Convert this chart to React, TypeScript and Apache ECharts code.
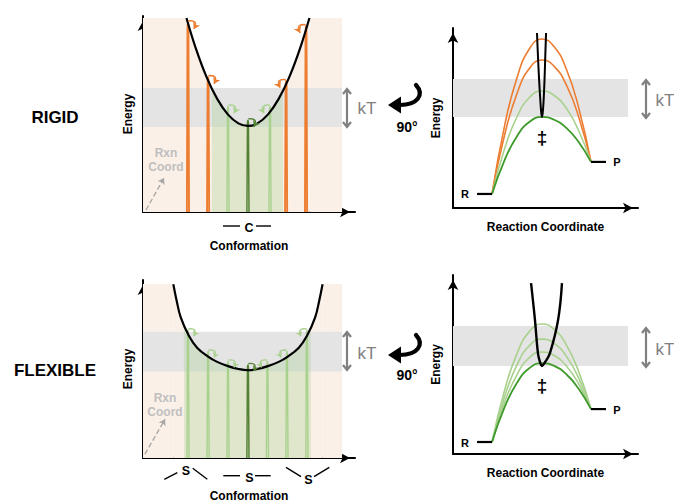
import React, { useEffect, useRef } from 'react';
import * as echarts from 'echarts';

// ---------- DATA (axis units 0..100 in every panel) ----------
// Rigid: conformational energy well
const rigidCurve = [[20.5, 99], [25, 83.2], [30, 68.8], [35, 57.7], [40, 49.8], [45, 45.2], [49.5, 43.9], [54, 45.2], [59, 49.8], [64, 57.7], [69, 68.8], [74, 83.2], [78.5, 99]];
const rigidGreenFill = [[32.5, 62.8], [35, 57.7], [40, 49.8], [45, 45.2], [49.5, 43.9], [54, 45.2], [59, 49.8], [64, 57.7], [66, 61.7]];
const rigidBand = [43.4, 63.3];
const rigidPeachTop = 99;
const rigidOrangeX = [21.2, 30.7, 67.5, 76.9];
const rigidOrangeTop = [97, 69, 67, 95];
const rigidLightX = [40.1, 59.9];
const rigidLightTop = [54, 54];
const rigidDarkX = [49.5];
const rigidDarkTop = [47];

// Flexible: conformational energy well
const flexCurve = [[14.3, 97.6], [15.8, 88.8], [17.8, 79], [21.7, 68.5], [25.5, 62], [30.7, 57], [35, 54], [40.1, 51.6], [45, 50], [49.5, 49.3], [54, 50], [58.9, 51.6], [64, 54], [68.3, 57], [73.5, 62], [77.3, 68.5], [81.2, 79], [83.2, 88.8], [84.7, 97.6]];
const flexGreenFill = [[19.3, 74.5], [21.7, 68.5], [25.5, 62], [30.7, 57], [35, 54], [40.1, 51.6], [45, 50], [49.5, 49.3], [54, 50], [58.9, 51.6], [64, 54], [68.3, 57], [73.5, 62], [77.3, 68.5], [79.2, 73.5]];
const flexBand = [48.6, 70.9];
const flexPeachTop = 97.8;
const flexLightX = [21.2, 30.7, 40.1, 58.7, 67.9, 77.3];
const flexLightTop = [72, 60, 54.5, 54.5, 60, 72];
const flexDarkX = [49.5];
const flexDarkTop = [52.5];

// Reaction coordinate profiles
const rcX = [21.1, 27.85, 34.6, 41.35, 48.1, 54.7, 61.4, 68.0, 74.6];
const rigidTSDark = [7.8, 26.5, 39.9, 47.9, 50.6, 49.0, 44.4, 36.5, 25.6];
const rigidTSLight = [7.8, 32.8, 50.7, 61.4, 65, 62.5, 55.2, 42.8, 25.6];
const rigidTSOrange1 = [7.8, 40.4, 63.6, 77.6, 82.2, 78.7, 68.1, 50.4, 25.6];
const rigidTSOrange2 = [7.8, 45.5, 72.4, 88.5, 93.9, 89.6, 76.8, 55.5, 25.6];
const rigidTSWell = [[45.4, 97.2], [45.9, 85], [46.5, 72], [47.2, 60], [47.7, 53], [48.1, 50.6], [48.5, 53], [49.0, 60], [49.5, 72], [49.9, 85], [50.3, 97.2]];
const rigidTSBand = [50.6, 71.7];
const rigidR = 7.8, rigidP = 25.6;

const flexTSDark = [6.7, 26.0, 39.8, 48.0, 50.8, 49.2, 44.4, 36.3, 25.1];
const flexTSLight1 = [6.7, 28.7, 44.4, 53.9, 57, 55.0, 49.0, 39.1, 25.1];
const flexTSLight2 = [6.7, 31.9, 49.8, 60.6, 64.2, 61.8, 54.4, 42.2, 25.1];
const flexTSLight3 = [6.7, 35.5, 56.1, 68.5, 72.6, 69.6, 60.7, 45.9, 25.1];
const flexTSWell = [[42.2, 95.5], [44.3, 74.9], [45.9, 56.4], [47, 51.5], [48.1, 49.2], [49.6, 51], [52.4, 56.4], [56.8, 74.9], [58.9, 95.5]];
const flexTSBand = [49.2, 71.5];
const flexR = 6.7, flexP = 25.1;

const RLevelX = [13, 21.1];
const PLevelX = [74.6, 82.7];

// ---------- STYLE ----------
const ORANGE = '#ED7D31';
const LIGHT = '#A9D18E';
const DARK = '#3F9A2C';
const DARK2 = '#548235';
const PEACH = '#FBF0E8';
const GRAY = '#E4E4E4';
const GREENFILL = 'rgba(169,209,142,0.32)';
const FONT = '"Liberation Sans", Arial, sans-serif';

const grids = [
  { left: 143, top: 16, width: 212, height: 196 },
  { left: 453, top: 28, width: 185, height: 180 },
  { left: 143, top: 280, width: 212, height: 179 },
  { left: 453, top: 275, width: 185, height: 179 },
];
const xNames = ['Conformation', 'Reaction Coordinate', 'Conformation', 'Reaction Coordinate'];
const xGaps = [28, 13, 32, 13];
const yGaps = [9, 11, 9, 11];

const axisLine = {
  show: true, onZero: false, symbol: ['none', 'arrow'], symbolSize: [8, 10], symbolOffset: [0, -5],
  lineStyle: { color: '#000', width: 2 },
};
const nameStyle = { fontFamily: FONT, fontWeight: 'bold', fontSize: 12, color: '#000' };

function line(gi: number, data: number[][], color: string, width: number, smooth: any = false, extra: any = {}) {
  return { type: 'line', xAxisIndex: gi, yAxisIndex: gi, data, symbol: 'none', silent: true, smooth, lineStyle: { color, width }, ...extra };
}
function area(gi: number, data: number[][], color: string, origin: any = 'start', smooth: any = false) {
  return {
    type: 'line', xAxisIndex: gi, yAxisIndex: gi, data, symbol: 'none', silent: true, smooth,
    lineStyle: { width: 0, opacity: 0 }, areaStyle: { color, opacity: 1, origin },
  };
}
function peak(x: number, h: number) {
  return [[x - 0.5, 0], [x - 0.22, h * 0.97], [x, h], [x + 0.22, h * 0.97], [x + 0.5, 0]];
}
function zip(xs: number[], ys: number[]) { return xs.map((x, i) => [x, ys[i]]); }

function peakArrows(xs: number[], tops: number[], color: string, center: number, w = 1.4) {
  return xs.map((x, i) => {
    const dir = x <= center + 0.01 ? 1 : -1;
    return {
      coords: [[x + 0.15 * dir, tops[i] + 0.5], [x + 2.8 * dir, tops[i] - 3.6]],
      lineStyle: { color, width: w, opacity: 1, curveness: 0.95 * dir },
    };
  });
}
function arrowsSeries(gi: number, data: any[], size: number, extraStyle: any = {}) {
  return {
    type: 'lines', coordinateSystem: 'cartesian2d', xAxisIndex: gi, yAxisIndex: gi, silent: true, z: 6,
    symbol: ['none', 'arrow'], symbolSize: size,
    lineStyle: { opacity: 1, width: 1.3, ...extraStyle },
    data,
  };
}

function buildOption() {
  const series: any[] = [];
  // ---- panel 0: rigid conformations
  series.push(area(0, [[0, rigidPeachTop], [rigidCurve[0][0], rigidPeachTop]], PEACH));
  series.push(area(0, [[rigidCurve[rigidCurve.length - 1][0], rigidPeachTop], [93.9, rigidPeachTop]], PEACH));
  series.push(area(0, rigidCurve, PEACH, 'start', 0.4));
  series.push(area(0, [[0, rigidBand[1]], [93.9, rigidBand[1]]], GRAY, rigidBand[0]));
  series.push(area(0, rigidGreenFill, GREENFILL, 'start', 0.4));
  rigidOrangeX.forEach((x, i) => series.push(line(0, peak(x, rigidOrangeTop[i]), ORANGE, 1.9)));
  rigidLightX.forEach((x, i) => series.push(line(0, peak(x, rigidLightTop[i]), LIGHT, 1.4)));
  rigidDarkX.forEach((x, i) => series.push(line(0, peak(x, rigidDarkTop[i]), DARK2, 1.5)));
  series.push(line(0, rigidCurve, '#000', 2.2, 0.4));
  series.push(arrowsSeries(0, [
    ...peakArrows(rigidOrangeX, rigidOrangeTop, ORANGE, 49.5, 1.6),
    ...peakArrows(rigidLightX, rigidLightTop, LIGHT, 49.5),
    ...peakArrows(rigidDarkX, rigidDarkTop, DARK2, 49.5),
  ], 6));
  series.push(arrowsSeries(0, [{ coords: [[1.4, 1], [9.9, 17.3]] }], 6, { color: '#A6A6A6', type: 'dashed', width: 1.3 }));

  // ---- panel 1: rigid reaction profile
  series.push(area(1, [[0, rigidTSBand[1]], [94.6, rigidTSBand[1]]], GRAY, rigidTSBand[0]));
  series.push(line(1, zip(rcX, rigidTSOrange2), ORANGE, 1.6, 0.5));
  series.push(line(1, zip(rcX, rigidTSOrange1), ORANGE, 1.6, 0.5));
  series.push(line(1, zip(rcX, rigidTSLight), LIGHT, 1.6, 0.5));
  series.push(line(1, zip(rcX, rigidTSDark), DARK, 1.8, 0.5));
  series.push(line(1, rigidTSWell, '#000', 2, 0.4));
  series.push(line(1, zip(RLevelX, [rigidR, rigidR]), '#000', 2.2));
  series.push(line(1, zip(PLevelX, [rigidP, rigidP]), '#000', 2.2));

  // ---- panel 2: flexible conformations
  series.push(area(2, [[0, flexPeachTop], [flexCurve[0][0], flexPeachTop]], PEACH));
  series.push(area(2, [[flexCurve[flexCurve.length - 1][0], flexPeachTop], [93.9, flexPeachTop]], PEACH));
  series.push(area(2, flexCurve, PEACH, 'start', 0.4));
  series.push(area(2, [[0, flexBand[1]], [93.9, flexBand[1]]], GRAY, flexBand[0]));
  series.push(area(2, flexGreenFill, GREENFILL, 'start', 0.4));
  flexLightX.forEach((x, i) => series.push(line(2, peak(x, flexLightTop[i]), LIGHT, 1.4)));
  flexDarkX.forEach((x, i) => series.push(line(2, peak(x, flexDarkTop[i]), DARK2, 1.5)));
  series.push(line(2, flexCurve, '#000', 2.2, 0.4));
  series.push(arrowsSeries(2, [
    ...peakArrows(flexLightX, flexLightTop, LIGHT, 49.5),
    ...peakArrows(flexDarkX, flexDarkTop, DARK2, 49.5),
  ], 5));
  series.push(arrowsSeries(2, [{ coords: [[0.9, 2.2], [10.4, 21.8]] }], 6, { color: '#A6A6A6', type: 'dashed', width: 1.3 }));

  // ---- panel 3: flexible reaction profile
  series.push(area(3, [[0, flexTSBand[1]], [94.6, flexTSBand[1]]], GRAY, flexTSBand[0]));
  series.push(line(3, zip(rcX, flexTSLight3), LIGHT, 1.6, 0.5));
  series.push(line(3, zip(rcX, flexTSLight2), LIGHT, 1.6, 0.5));
  series.push(line(3, zip(rcX, flexTSLight1), LIGHT, 1.6, 0.5));
  series.push(line(3, zip(rcX, flexTSDark), DARK, 1.8, 0.5));
  series.push(line(3, flexTSWell, '#000', 2.4, 0.4));
  series.push(line(3, zip(RLevelX, [flexR, flexR]), '#000', 2.2));
  series.push(line(3, zip(PLevelX, [flexP, flexP]), '#000', 2.2));

  // ---------- graphic annotations ----------
  const g: any[] = [];
  const text = (t: string, x: number, y: number, size: number, fill = '#000', weight = 'bold') => g.push({
    type: 'text', x, y, silent: true, z: 10,
    style: { text: t, font: `${weight} ${size}px ${FONT}`, fill, align: 'center', verticalAlign: 'middle', textAlign: 'center', textVerticalAlign: 'middle' },
  });
  const seg = (x1: number, y1: number, x2: number, y2: number, stroke = '#000', w = 1.4) => g.push({
    type: 'line', silent: true, z: 10, shape: { x1, y1, x2, y2 }, style: { stroke, lineWidth: w },
  });
  const kT = (x: number, y1: number, y2: number, tx: number, ty: number) => {
    seg(x, y1 + 0.5, x, y2 - 0.5, '#808080', 2.2);
    g.push({ type: 'polyline', silent: true, z: 10, shape: { points: [[x - 4, y1 + 5], [x, y1], [x + 4, y1 + 5]] }, style: { stroke: '#808080', lineWidth: 2.2, fill: null } });
    g.push({ type: 'polyline', silent: true, z: 10, shape: { points: [[x - 4, y2 - 5], [x, y2], [x + 4, y2 - 5]] }, style: { stroke: '#808080', lineWidth: 2.2, fill: null } });
    text('kT', tx, ty, 17, '#808080', 'normal');
  };
  const rot = (dy: number) => {
    g.push({ type: 'bezierCurve', silent: true, z: 10, shape: { x1: 416, y1: 85 + dy, cpx1: 425, cpy1: 95 + dy, cpx2: 417, cpy2: 105 + dy, x2: 400, y2: 105 + dy }, style: { stroke: '#000', lineWidth: 4.2, fill: null, lineCap: 'round' } });
    g.push({ type: 'polygon', silent: true, z: 10, shape: { points: [[388, 105 + dy], [401, 96.5 + dy], [401, 113.5 + dy]] }, style: { fill: '#000' } });
  };

  text('RIGID', 55, 117, 17);
  text('FLEXIBLE', 55, 370, 17);

  kT(347, 89, 127, 367, 108);
  kT(646, 80, 118, 665, 100);
  kT(347, 332, 370, 367, 353);
  kT(646, 328, 367, 665, 349);

  rot(0);
  rot(250);
  text('90°', 407, 127, 14);
  text('90°', 407, 375, 14);

  text('‡', 542, 137, 19);
  text('‡', 542, 385, 19);
  text('R', 465, 194, 11);
  text('P', 617, 162, 11);
  text('R', 465, 443, 11);
  text('P', 617, 410, 11);

  text('Rxn', 166, 153, 12, '#BFBFBF');
  text('Coord', 166, 167, 12, '#BFBFBF');
  text('Rxn', 165, 398, 12, '#BFBFBF');
  text('Coord', 165, 412, 12, '#BFBFBF');

  // C label
  seg(223, 226, 240, 226);
  text('C', 249, 227.5, 12.5);
  seg(256, 226, 271, 226);
  // S labels
  seg(164.3, 479.3, 177.3, 472.7);
  text('S', 186, 471, 12.5);
  seg(192.7, 468.3, 207.3, 479.3);
  seg(223.3, 475.7, 240, 475.7);
  text('S', 249.3, 477.7, 12.5);
  seg(255, 475.7, 270.7, 475.7);
  seg(286, 467.3, 301, 476.7);
  text('S', 308.3, 480, 12.5);
  seg(314, 476.7, 329.3, 467.3);

  return {
    animation: false,
    backgroundColor: '#fff',
    grid: grids.map((gr) => ({ ...gr, containLabel: false })),
    xAxis: grids.map((_, i) => ({
      gridIndex: i, type: 'value', min: 0, max: 100,
      axisLine, axisTick: { show: false }, axisLabel: { show: false }, splitLine: { show: false },
      name: xNames[i], nameLocation: 'middle', nameGap: xGaps[i], nameTextStyle: nameStyle,
    })),
    yAxis: grids.map((_, i) => ({
      gridIndex: i, type: 'value', min: 0, max: 100,
      axisLine, axisTick: { show: false }, axisLabel: { show: false }, splitLine: { show: false },
      name: 'Energy', nameLocation: 'middle', nameGap: yGaps[i], nameTextStyle: nameStyle,
    })),
    series,
    graphic: { elements: g },
  };
}

export default function App() {
  const ref = useRef<HTMLDivElement>(null);
  useEffect(() => {
    if (!ref.current) return;
    const chart = echarts.init(ref.current, null, { renderer: 'svg' });
    chart.setOption(buildOption() as any);
    return () => chart.dispose();
  }, []);
  return <div ref={ref} style={{ position: 'fixed', left: 0, top: 0, width: 674, height: 503, background: '#fff' }} />;
}
